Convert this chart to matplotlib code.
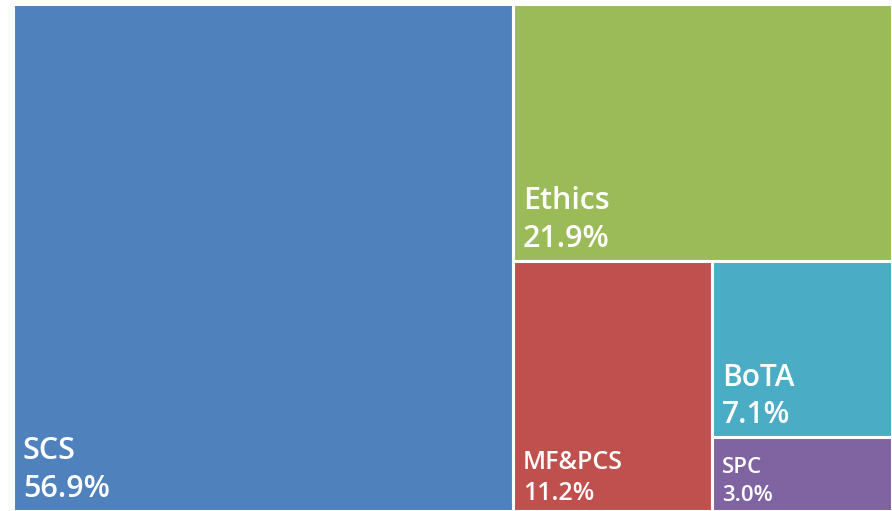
import matplotlib.pyplot as plt
from matplotlib.patches import Rectangle

labels = ['SCS', 'Ethics', 'MF&PCS', 'BoTA', 'SPC']
shares = [56.9, 21.9, 11.2, 7.1, 3.0]
colors = ['#4F81BD', '#9BBB59', '#C0504D', '#4BACC6', '#8064A2']
font_sizes = [22, 22, 18, 21.5, 16]

plt.rcParams['font.family'] = ['Open Sans', 'DejaVu Sans']

W, H = 879.0, 507.0


def split(rect, value, total, vertical):
    # cut a piece off the rect proportional to value/total
    x, y, w, h = rect
    f = value / total
    if vertical:
        return (x, y, w * f, h), (x + w * f, y, w * (1 - f), h)
    return (x, y + h * (1 - f), w, h * f), (x, y, w, h * (1 - f))


# slice order: SCS left strip, Ethics top, MF&PCS left, BoTA top, SPC rest
rects = []
rest = (0.0, 0.0, W, H)
remaining = sum(shares)
orient = [True, False, True, False]
for i, v in enumerate(shares[:-1]):
    r, rest = split(rest, v, remaining, orient[i])
    rects.append(r)
    remaining -= v
rects.append(rest)

fig = plt.figure(figsize=(8.92, 5.11), dpi=100)
ax = fig.add_axes([13 / 892, 0, W / 892, H / 511])
ax.set_xlim(0, W)
ax.set_ylim(0, H)
ax.axis('off')

px = 72 / 100  # points per pixel
for (x, y, w, h), lab, s, c, fs in zip(rects, labels, shares, colors, font_sizes):
    ax.add_patch(Rectangle((x, y), w, h, facecolor=c, edgecolor='white', linewidth=2.2))
    em = fs / px
    pad = 0.46 * em
    gap = 1.24 * em
    ax.annotate(f'{s:.1f}%', (x, y), xytext=(10 * px, pad * px), textcoords='offset points',
                color='white', fontsize=fs, fontweight='semibold', ha='left', va='baseline')
    ax.annotate(lab, (x, y), xytext=(10 * px, (pad + gap) * px), textcoords='offset points',
                color='white', fontsize=fs, fontweight='semibold', ha='left', va='baseline')

fig.savefig('out.png', dpi=100)
